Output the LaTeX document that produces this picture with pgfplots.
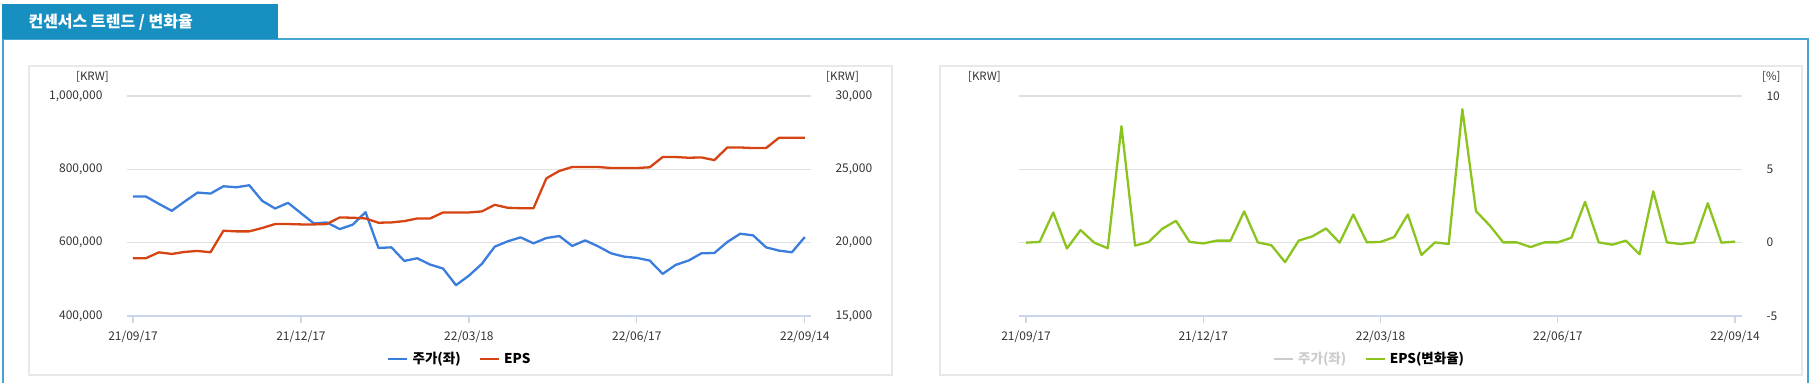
\documentclass[border=0pt]{standalone}
\usepackage{pgfplots}
\pgfplotsset{compat=1.18}
\usepackage{pgfplotstable}
\usepackage{fontspec}
\setmainfont{Noto Sans CJK KR}

\definecolor{tabblue}{RGB}{24,143,193}
\definecolor{framblue}{RGB}{70,165,210}
\definecolor{panelgray}{RGB}{232,232,232}
\definecolor{gridgray}{RGB}{224,224,224}
\definecolor{axisblue}{RGB}{204,214,235}
\definecolor{pricecol}{RGB}{59,125,221}
\definecolor{epscol}{RGB}{214,68,20}
\definecolor{chgcol}{RGB}{139,195,31}
\definecolor{txtgray}{RGB}{51,51,51}
\definecolor{leggray}{RGB}{204,204,204}

\pgfplotstableread{
i price eps
0 725800 18940
1 725800 18940
2 705900 19340
3 686900 19230
4 712200 19370
5 736600 19435
6 733900 19345
7 753800 20815
8 751100 20770
9 756600 20770
10 714000 21000
11 693200 21270
12 708600 21270
13 680500 21245
14 652500 21245
15 655200 21270
16 637100 21720
17 648900 21700
18 683200 21650
19 585500 21360
20 587300 21380
21 550200 21470
22 557500 21650
23 540300 21650
24 529400 22060
25 484100 22060
26 510000 22060
27 542100 22130
28 589100 22580
29 603600 22380
30 614500 22350
31 598200 22350
32 612700 24390
33 618100 24890
34 591000 25160
35 606300 25160
36 590000 25160
37 571000 25090
38 562000 25090
39 558400 25090
40 551100 25140
41 514900 25840
42 539300 25840
43 551100 25790
44 571000 25810
45 571900 25630
46 601800 26490
47 624400 26490
48 619900 26450
49 587300 26450
50 578300 27150
51 573800 27150
52 615400 27150
}\leftdata

\pgfplotstableread{
i chg
0 0
1 0.05
2 2.06
3 -0.4
4 0.86
5 0
6 -0.38
7 7.94
8 -0.2
9 0.05
10 0.95
11 1.49
12 0.05
13 -0.05
14 0.14
15 0.14
16 2.13
17 0.02
18 -0.18
19 -1.33
20 0.14
21 0.43
22 0.97
23 0
24 1.92
25 0.02
26 0.05
27 0.38
28 1.92
29 -0.84
30 0.02
31 -0.09
32 9.1
33 2.15
34 1.18
35 0.02
36 0.02
37 -0.3
38 0.02
39 0.02
40 0.34
41 2.78
42 0.02
43 -0.14
44 0.14
45 -0.79
46 3.5
47 0.02
48 -0.09
49 0.02
50 2.69
51 0
52 0.07
}\rightdata

\pgfplotsset{
  base/.style={
    scale only axis, height=220pt,
    scaled y ticks=false, scaled x ticks=false,
    enlargelimits=false,
    /pgf/number format/assume math mode=true,
    tick label style={font=\fontsize{12}{14}\selectfont, text=txtgray},
    xtick={0,13,26,39,52},
    xticklabels={21/09/17,21/12/17,22/03/18,22/06/17,22/09/14},
    xticklabel style={yshift=-4pt},
    x axis line style={draw=axisblue, line width=1.5pt},
    xtick style={draw=axisblue, line width=1.2pt},
    major tick length=7pt, tick align=outside,
    ytick style={draw=none},
    y axis line style={draw=none},
    legend style={draw=none, fill=none, legend columns=-1,
      font=\fontsize{13.5}{15}\selectfont\bfseries,
      /tikz/every even column/.append style={column sep=14pt},
      nodes={inner xsep=4pt}},
    legend image code/.code={\draw[#1, line width=2.5pt] (0pt,0pt) -- (19pt,0pt);},
  },
}

\begin{document}
\begin{tikzpicture}
\useasboundingbox (0pt,0pt) rectangle (1810pt,383pt);
% header tab and frame
\draw[framblue, line width=1.5pt] (3pt,0pt) -- (3pt,344pt) -- (1808pt,344pt) -- (1808pt,0pt);
\fill[tabblue] (2pt,344pt) rectangle (278pt,379pt);
\node[anchor=west, text=white, font=\fontsize{16}{18}\selectfont\bfseries] at (25pt,361pt) {컨센서스 트렌드 / 변화율};
% panels
\draw[panelgray, line width=2pt] (29pt,8pt) rectangle (892pt,317pt);
\draw[panelgray, line width=2pt] (940pt,8pt) rectangle (1802pt,317pt);

% ---- left chart: price (left axis)
\begin{axis}[base, anchor=south west, at={(127pt,67pt)}, width=684pt,
  xmin=-0.464, xmax=52.48, ymin=400000, ymax=1000000,
  axis x line*=bottom, axis y line*=left,
  ytick={400000,600000,800000,1000000},
  yticklabels={{400,000},{600,000},{800,000},{1,000,000}},
  yticklabel style={xshift=-14pt},
  ymajorgrids, grid style={draw=gridgray, line width=1.2pt},
]
\addplot[pricecol, line width=2.3pt, line join=round] table[x=i, y=price] {\leftdata};
\end{axis}
% ---- left chart: EPS (right axis)
\begin{axis}[base, anchor=south west, at={(127pt,67pt)}, width=684pt,
  xmin=-0.464, xmax=52.48, ymin=15000, ymax=30000,
  axis x line*=bottom, axis y line*=right,
  x axis line style={draw=none}, xtick style={draw=none}, xticklabels={},
  ytick={15000,20000,25000,30000},
  yticklabels={{15,000},{20,000},{25,000},{30,000}},
  yticklabel style={xshift=14pt},
  legend style={at={(0.488,-0.195)}, anchor=center},
]
\addlegendimage{pricecol}
\addlegendentry{주가(좌)}
\addplot[epscol, line width=2.3pt, line join=round] table[x=i, y=eps] {\leftdata};
\addlegendentry{EPS}
\end{axis}

% ---- right chart
\begin{axis}[base, anchor=south west, at={(1019pt,67pt)}, width=723pt,
  xmin=-0.513, xmax=52.51, ymin=-5, ymax=10,
  axis x line*=bottom, axis y line*=right,
  ytick={-5,0,5,10},
  yticklabels={-5,0,5,10},
  yticklabel style={xshift=14pt},
  ymajorgrids, grid style={draw=gridgray, line width=1.2pt},
  legend style={at={(0.486,-0.195)}, anchor=center},
]
\addlegendimage{leggray}
\addlegendentry{\textcolor{leggray}{주가(좌)}}
\addplot[chgcol, line width=2.3pt, line join=round] table[x=i, y=chg] {\rightdata};
\addlegendentry{EPS(변화율)}
\end{axis}

% unit labels
\node[anchor=east, font=\fontsize{11.5}{13}\selectfont, text=txtgray, inner sep=0pt] at (109pt,306pt) {[KRW]};
\node[anchor=west, font=\fontsize{11.5}{13}\selectfont, text=txtgray, inner sep=0pt] at (826pt,306pt) {[KRW]};
\node[anchor=east, font=\fontsize{11.5}{13}\selectfont, text=txtgray, inner sep=0pt] at (1001pt,306pt) {[KRW]};
\node[anchor=west, font=\fontsize{11.5}{13}\selectfont, text=txtgray, inner sep=0pt] at (1762pt,306pt) {[\%]};
\end{tikzpicture}
\end{document}
